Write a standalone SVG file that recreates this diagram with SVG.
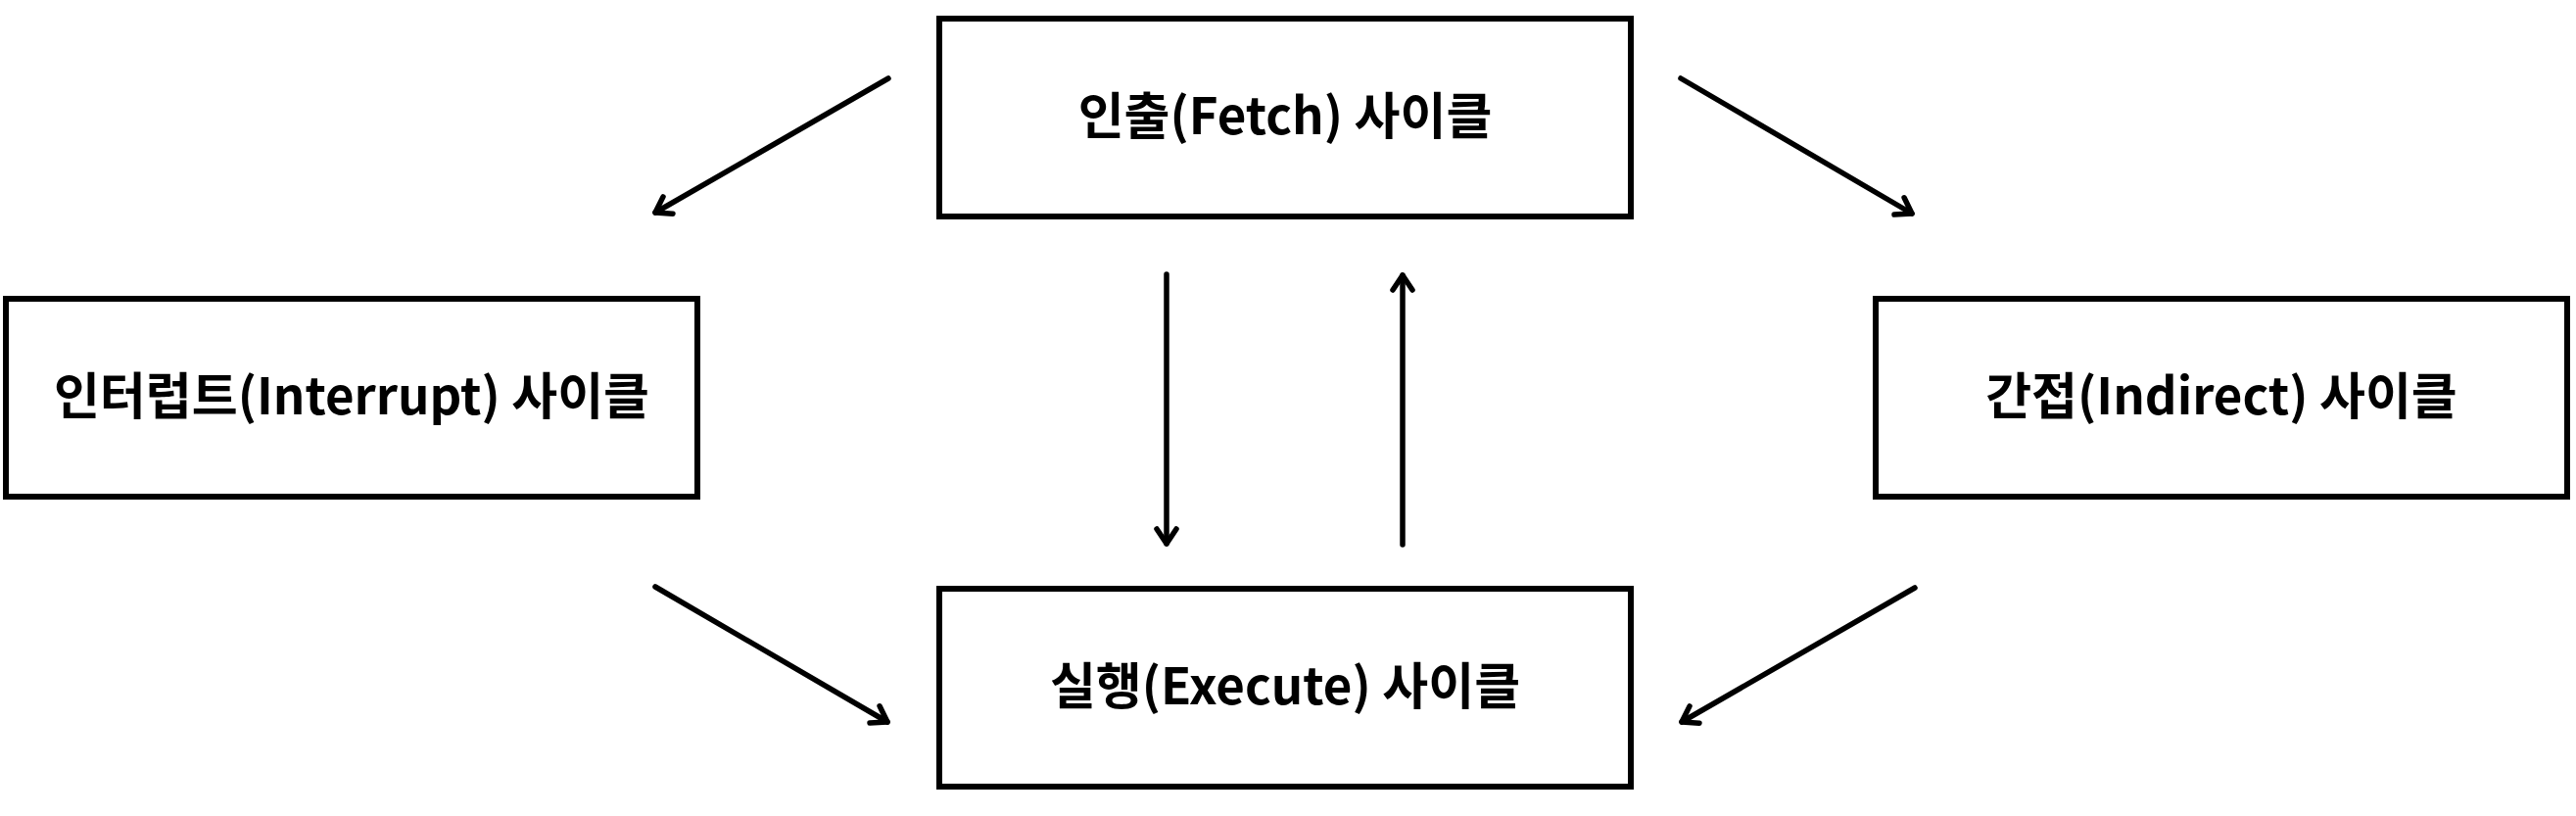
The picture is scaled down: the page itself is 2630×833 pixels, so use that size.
<svg xmlns="http://www.w3.org/2000/svg" width="2630" height="833" viewBox="0 0 2630 833">
  <style>
    .box { fill: #ffffff; stroke: #000000; stroke-width: 6; }
    .label { font-family: "Noto Sans CJK KR", "Noto Sans", sans-serif; font-weight: bold; font-size: 51px; fill: #000000; text-anchor: middle; }
    .conn { stroke: #000000; stroke-width: 5.5; fill: none; stroke-linecap: round; marker-end: url(#arrow); }
  </style>
  <defs>
    <marker id="arrow" markerUnits="userSpaceOnUse" viewBox="-20 -15 25 30" markerWidth="25" markerHeight="30" refX="0" refY="0" orient="auto" overflow="visible">
      <path d="M -15 -10 L 0 0 L -15 10" fill="none" stroke="#000000" stroke-width="5.5" stroke-linecap="round" stroke-linejoin="round"/>
    </marker>
  </defs>
  <rect width="2630" height="833" fill="#ffffff"/>
  <g id="connectors">
    <line class="conn" x1="907" y1="80" x2="669" y2="217"/>
    <line class="conn" x1="1716" y1="80" x2="1952" y2="218"/>
    <line class="conn" x1="669" y1="599" x2="906" y2="737"/>
    <line class="conn" x1="1955" y1="600" x2="1717" y2="737"/>
    <line class="conn" x1="1191" y1="280" x2="1191" y2="555"/>
    <line class="conn" x1="1432" y1="556" x2="1432" y2="281"/>
  </g>
  <g id="fetch">
    <rect class="box" x="959" y="19" width="706" height="202"/>
    <text class="label" x="1312" y="137">인출(Fetch) 사이클</text>
  </g>
  <g id="interrupt">
    <rect class="box" x="6" y="305" width="706" height="202"/>
    <text class="label" x="359" y="423">인터럽트(Interrupt) 사이클</text>
  </g>
  <g id="indirect">
    <rect class="box" x="1915" y="305" width="706" height="202"/>
    <text class="label" x="2268" y="423">간접(Indirect) 사이클</text>
  </g>
  <g id="execute">
    <rect class="box" x="959" y="601" width="706" height="202"/>
    <text class="label" x="1312" y="719">실행(Execute) 사이클</text>
  </g>
</svg>
